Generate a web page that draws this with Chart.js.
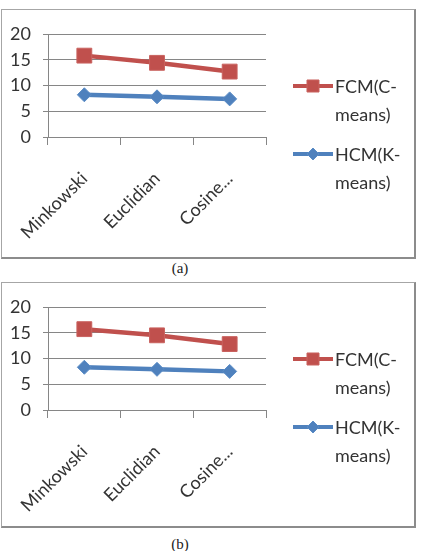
<!DOCTYPE html>
<html>
<head>
<meta charset="utf-8">
<script src="https://cdn.jsdelivr.net/npm/chart.js@4/dist/chart.umd.min.js"></script>
<style>
  html, body { margin: 0; padding: 0; background: #fff; width: 427px; height: 551px; overflow: hidden; }
  .frame { position: absolute; left: 1px; width: 415px; box-sizing: border-box;
           border-top: 1px solid #a6a6a6; border-left: 1px solid #a6a6a6;
           border-right: 2px solid #8c8c8c; border-bottom: 2px solid #8c8c8c; }
  canvas { position: absolute; left: 0; }
  .cap { position: absolute; width: 40px; text-align: center; font-family: "Liberation Serif", "DejaVu Serif", serif;
         font-size: 15px; line-height: 16px; color: #222; }
</style>
</head>
<body>
<div class="frame" style="top:9px;height:250px;"></div>
<canvas id="chartA" width="416" height="247" style="top:9px;"></canvas>
<div class="cap" style="left:160px;top:260px;">(a)</div>

<div class="frame" style="top:282px;height:246px;"></div>
<canvas id="chartB" width="416" height="243" style="top:282px;"></canvas>
<div class="cap" style="left:160px;top:536px;">(b)</div>

<script>
// ---- data ----
const categories = ["Minkowski", "Euclidian", "Cosine..."];
const seriesNames = ["FCM(C-means)", "HCM(K-means)"];
const legendLines = [["FCM(C-", "means)"], ["HCM(K-", "means)"]];
const fcmValuesA = [15.8, 14.4, 12.7];
const hcmValuesA = [8.2, 7.8, 7.4];
const fcmValuesB = [15.7, 14.5, 12.8];
const hcmValuesB = [8.3, 7.9, 7.5];
const yTickValues = [0, 5, 10, 15, 20];

const RED = "#C0504D";
const BLUE = "#4F81BD";
const TEXT = "#333333";
const GRID = "#868686";
const FONT = "Lato, 'Open Sans', sans-serif";
const FSIZE = 18;

const legendPlugin = {
  id: "sideLegend",
  afterDraw(chart) {
    const ctx = chart.ctx;
    const a = chart.chartArea;
    const x0 = a.right + 27, x1 = a.right + 67, xt = a.right + 69;
    const ys = [a.top + 52, a.top + 120];
    chart.data.datasets.forEach((ds, i) => {
      const y = ys[i];
      ctx.save();
      ctx.strokeStyle = ds.borderColor;
      ctx.lineWidth = 4;
      ctx.beginPath();
      ctx.moveTo(x0, y);
      ctx.lineTo(x1, y);
      ctx.stroke();
      ctx.fillStyle = ds.pointBackgroundColor;
      ctx.strokeStyle = ds.pointBorderColor;
      ctx.lineWidth = 1;
      Chart.helpers.drawPoint(ctx, {
        pointStyle: ds.pointStyle,
        radius: i === 0 ? 8.5 : 6,
        borderWidth: 1
      }, (x0 + x1) / 2, y);
      ctx.fillStyle = TEXT;
      ctx.font = FSIZE + "px " + FONT;
      ctx.textBaseline = "middle";
      ctx.textAlign = "left";
      legendLines[i].forEach((t, k) => ctx.fillText(t, xt, y + 1 + k * 28));
      ctx.restore();
    });
  }
};

function makeChart(id, fcm, hcm) {
  const canvas = document.getElementById(id);
  const H = canvas.height;
  return new Chart(canvas, {
    type: "line",
    data: {
      labels: categories,
      datasets: [
        {
          label: seriesNames[0], data: fcm,
          borderColor: RED, backgroundColor: RED, borderWidth: 4.5,
          pointStyle: "rect", pointRadius: 10.5, pointBackgroundColor: RED,
          pointBorderColor: "#c9625f", pointBorderWidth: 1, tension: 0
        },
        {
          label: seriesNames[1], data: hcm,
          borderColor: BLUE, backgroundColor: BLUE, borderWidth: 4.5,
          pointStyle: "rectRot", pointRadius: 7, pointBackgroundColor: BLUE,
          pointBorderColor: "#5a8cc6", pointBorderWidth: 1, tension: 0
        }
      ]
    },
    options: {
      responsive: false,
      animation: false,
      devicePixelRatio: 1,
      layout: { padding: { top: 25, right: 150, bottom: 0, left: 0 } },
      plugins: { legend: { display: false }, tooltip: { enabled: false } },
      scales: {
        x: {
          offset: true,
          grid: { display: true, drawOnChartArea: false, drawTicks: true, tickLength: 8, color: GRID, offset: true },
          border: { display: true, color: GRID, width: 1 },
          ticks: { color: TEXT, font: { family: FONT, size: FSIZE }, minRotation: 45, maxRotation: 45, padding: 23, autoSkip: false },
          afterFit(s) { s.height = H - 128; s.paddingLeft = 0; s.paddingRight = 0; }
        },
        y: {
          min: 0, max: 20,
          afterBuildTicks(s) { s.ticks = yTickValues.map(v => ({ value: v })); },
          grid: { color: GRID, tickLength: 5, drawTicks: true },
          border: { display: true, color: GRID, width: 1 },
          ticks: { color: TEXT, font: { family: FONT, size: FSIZE }, padding: 12, autoSkip: false },
          afterFit(s) { s.width = 48; s.paddingTop = 0; s.paddingBottom = 0; }
        }
      }
    },
    plugins: [legendPlugin]
  });
}

makeChart("chartA", fcmValuesA, hcmValuesA);
makeChart("chartB", fcmValuesB, hcmValuesB);
</script>
</body>
</html>
